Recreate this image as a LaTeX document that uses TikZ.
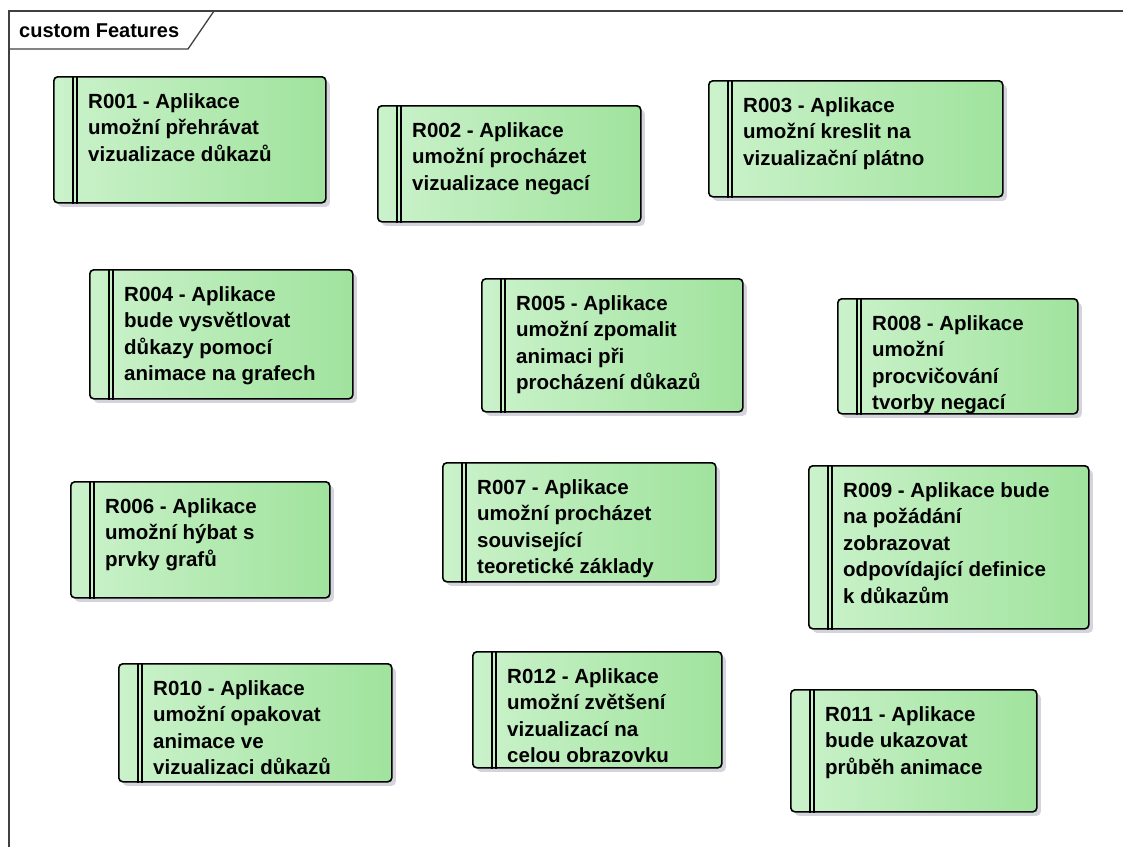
\documentclass[tikz,border=0pt]{standalone}
\usepackage{fontspec}
\setmainfont{Liberation Sans}
\usetikzlibrary{shadows}
\definecolor{boxleft}{HTML}{CBF2CB}
\definecolor{boxright}{HTML}{A0E39D}
\definecolor{shadowgray}{HTML}{D4D4DC}
\definecolor{framegray}{HTML}{404040}
\begin{document}
\begin{tikzpicture}[x=1pt,y=-1pt,
  reqbox/.style={draw=black, line width=1.6pt, rounded corners=4pt,
    left color=boxleft, right color=boxright, inner sep=0pt, anchor=north west,
    drop shadow={shadow xshift=4pt, shadow yshift=-4pt, fill=shadowgray, opacity=1}},
  reqbar/.style={draw=black, line width=1.2pt},
  reqtext/.style={anchor=north west, align=left, inner sep=0pt, text=black,
    font=\fontsize{20.5}{26.5}\selectfont\bfseries},
  frameline/.style={draw=framegray, line width=1.3pt},
  titletext/.style={anchor=base west, inner sep=0pt, text=black,
    font=\fontsize{20}{24}\selectfont\bfseries}]

\useasboundingbox (0,0) rectangle (1123,847);

% diagram frame with its name tab
\coordinate (ftop) at (9,11);
\coordinate (fright) at (1123,11);
\coordinate (fbottom) at (9,847);
\draw[frameline] (fbottom) -- (ftop) -- (fright);
\coordinate (tabtop) at (214,11);
\coordinate (tabcorner) at (188,49);
\coordinate (tableft) at (9,49);
\draw[frameline] (tableft) -- (tabcorner) -- (tabtop);
\node[titletext] (title) at (19,37) {custom Features};

% one requirement: name, left, top, right, bottom, text
\newcommand\reqitem[6]{%
  \node[reqbox, minimum width=#4pt-#2pt, minimum height=#5pt-#3pt] (#1) at (#2,#3) {};
  \draw[reqbar] ([xshift=20pt]#1.north west) -- ([xshift=20pt]#1.south west);
  \draw[reqbar] ([xshift=24pt]#1.north west) -- ([xshift=24pt]#1.south west);
  \node[reqtext] (#1text) at ([shift={(35pt,-17pt)}]#1.north west) {#6};
}

\reqitem{r001}{53}{76}{325}{202}{R001 - Aplikace\\umožní přehrávat\\vizualizace důkazů}
\reqitem{r002}{377}{105}{640}{221}{R002 - Aplikace\\umožní procházet\\vizualizace negací}
\reqitem{r003}{708}{80}{1002}{196}{R003 - Aplikace\\umožní kreslit na\\vizualizační plátno}
\reqitem{r004}{89}{269}{352}{398}{R004 - Aplikace\\bude vysvětlovat\\důkazy pomocí\\animace na grafech}
\reqitem{r005}{481}{278}{742}{411}{R005 - Aplikace\\umožní zpomalit\\animaci při\\procházení důkazů}
\reqitem{r008}{837}{298}{1077}{413}{R008 - Aplikace\\umožní\\procvičování\\tvorby negací}
\reqitem{r006}{70}{481}{329}{597}{R006 - Aplikace\\umožní hýbat s\\prvky grafů}
\reqitem{r007}{442}{462}{715}{581}{R007 - Aplikace\\umožní procházet\\související\\teoretické základy}
\reqitem{r009}{808}{465}{1088}{628}{R009 - Aplikace bude\\na požádání\\zobrazovat\\odpovídající definice\\k důkazům}
\reqitem{r010}{118}{663}{391}{781}{R010 - Aplikace\\umožní opakovat\\animace ve\\vizualizaci důkazů}
\reqitem{r012}{472}{651}{721}{767}{R012 - Aplikace\\umožní zvětšení\\vizualizací na\\celou obrazovku}
\reqitem{r011}{790}{689}{1036}{811}{R011 - Aplikace\\bude ukazovat\\průběh animace}

\end{tikzpicture}
\end{document}
